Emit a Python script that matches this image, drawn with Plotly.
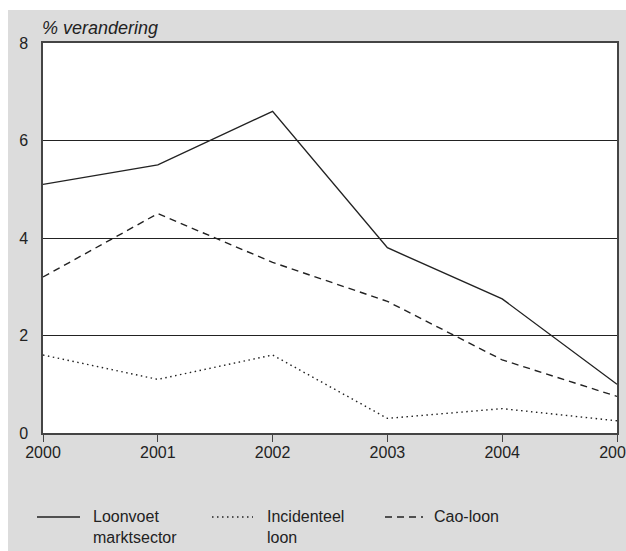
import plotly.graph_objects as go

# jaren en reeksen (% verandering)
jaren = [2000, 2001, 2002, 2003, 2004, 2005]
loonvoet = [5.1, 5.5, 6.6, 3.8, 2.75, 1.0]
incidenteel = [1.6, 1.1, 1.6, 0.3, 0.5, 0.25]
cao_loon = [3.2, 4.5, 3.5, 2.7, 1.5, 0.75]

reeksen = [
    ("Loonvoet<br>marktsector", loonvoet, "solid"),
    ("Incidenteel<br>loon", incidenteel, "1.5px,3.5px"),
    ("Cao-loon", cao_loon, "7px,5px"),
]

W, H = 626, 551
L, R, T, B = 43, 9, 43, 118
grijs = "#dcdcdc"
lijn = "#222222"
font = "Liberation Sans, Arial, sans-serif"


def px(x):
    # pixel -> paper x
    return (x - L) / (W - L - R)


def py(y):
    # pixel -> paper y
    return (H - B - y) / (H - T - B)


fig = go.Figure()
for naam, waarden, dash in reeksen:
    fig.add_trace(go.Scatter(
        x=jaren, y=waarden, name=naam, mode="lines",
        line=dict(color=lijn, width=1.4, dash=dash),
        showlegend=False,
    ))

# witte stroken boven en links van het grijze vlak
fig.add_shape(type="rect", xref="paper", yref="paper", layer="below",
              x0=px(-5), x1=px(W + 5), y0=py(10), y1=py(-5),
              fillcolor="white", line_width=0)
fig.add_shape(type="rect", xref="paper", yref="paper", layer="below",
              x0=px(-5), x1=px(8), y0=py(H + 5), y1=py(-5),
              fillcolor="white", line_width=0)

fig.add_annotation(text="% verandering", xref="paper", yref="paper",
                   x=0, y=py(40), xanchor="left", yanchor="bottom", showarrow=False,
                   xshift=-3,
                   font=dict(family=font, size=18, color="#222", style="italic"))

# legenda onder de grafiek
legenda_x = [(37, 80, 91), (212, 253, 265), (385, 423, 432)]
for (naam, _, dash), (x0, x1, xt) in zip(reeksen, legenda_x):
    fig.add_shape(type="line", xref="paper", yref="paper",
                  x0=px(x0), x1=px(x1), y0=py(517), y1=py(517),
                  line=dict(color=lijn, width=1.4, dash=dash))
    fig.add_annotation(text=naam, xref="paper", yref="paper",
                       x=px(xt), y=py(506), xanchor="left", yanchor="top",
                       align="left", showarrow=False,
                       font=dict(family=font, size=16, color="#222"))

fig.update_layout(
    width=W, height=H, autosize=False,
    margin=dict(l=L, r=R, t=T, b=B),
    paper_bgcolor=grijs, plot_bgcolor="white",
    font=dict(family=font, size=16, color="#222"),
    showlegend=False,
)
fig.update_xaxes(range=[2000, 2005], tickvals=jaren, ticks="outside", ticklen=7,
                 tickcolor="#444", ticklabelstandoff=-3, ticklabeloverflow="allow",
                 automargin=False, showgrid=False, showline=True, mirror=True,
                 linecolor="#444", linewidth=1.5, zeroline=False)
fig.update_yaxes(range=[0, 8], tickvals=[0, 2, 4, 6, 8], ticks="", showgrid=True,
                 gridcolor=lijn, gridwidth=1, ticklabelstandoff=10, automargin=False,
                 showline=True, mirror=True,
                 linecolor="#444", linewidth=1.5, zeroline=False)

# body-marge weg, zodat de figuur precies het venster vult
fig.write_html("out.html", config={"responsive": False, "displayModeBar": False},
               post_script="document.body.style.margin='0';"
                           "document.body.style.overflow='hidden';")
